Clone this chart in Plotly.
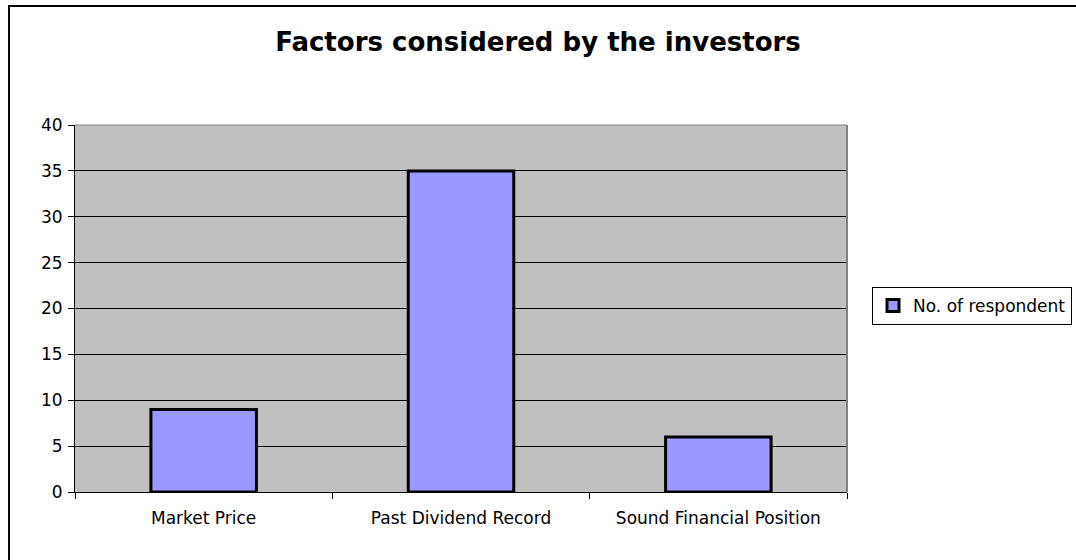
import plotly.graph_objects as go

categories = ["Market Price", "Past Dividend Record", "Sound Financial Position"]
respondents = [9, 35, 6]
series_name = "No. of respondent"
y_ticks = [0, 5, 10, 15, 20, 25, 30, 35, 40]

W, H = 1076, 560
L, R, T, B = 75, 847, 125, 492  # plot area in pixels
pw, ph = R - L, B - T

def px_x(p):
    return (p - L) / pw

def px_y(p):
    return (B - p) / ph

fig = go.Figure()
fig.add_trace(go.Bar(
    x=categories, y=respondents, name=series_name,
    marker=dict(color="#9999FF", line=dict(color="black", width=3)),
    showlegend=True,
))

font = "DejaVu Sans, Verdana, sans-serif"

fig.update_layout(
    width=W, height=H,
    margin=dict(l=L, r=W - R, t=T, b=H - B, pad=0, autoexpand=False),
    paper_bgcolor="white",
    plot_bgcolor="#C0C0C0",
    bargap=0.59,
    font=dict(family=font, size=16, color="black"),
    title=dict(text="<b>Factors considered by the investors</b>",
               x=0.5, xanchor="center", xref="container",
               y=1 - 42 / H, yanchor="middle", yref="container",
               font=dict(family=font, size=26, color="black")),
    xaxis=dict(
        type="category", showgrid=False, ticks="outside", tickson="boundaries",
        ticklen=6, tickcolor="black", showline=True, linecolor="black", linewidth=1,
        tickfont=dict(size=17), ticklabelstandoff=11,
    ),
    yaxis=dict(
        range=[0, 40], tickvals=y_ticks, ticks="outside", ticklen=6, tickcolor="black",
        showline=True, linecolor="black", linewidth=1,
        showgrid=True, gridcolor="black", gridwidth=1, zeroline=False,
        tickfont=dict(size=17), ticklabelstandoff=2,
    ),
    legend=dict(
        x=px_x(872), xanchor="left", y=px_y(306), yanchor="middle",
        bordercolor="black", borderwidth=1, bgcolor="white",
        font=dict(size=17),
    ),
    shapes=[
        # right/top border of plot area
        dict(type="line", xref="paper", yref="paper", x0=1, x1=1, y0=0, y1=1,
             line=dict(color="#808080", width=2)),
        dict(type="line", xref="paper", yref="paper", x0=0, x1=1, y0=1, y1=1,
             line=dict(color="#808080", width=1)),
        # outer chart frame
        dict(type="rect", xref="paper", yref="paper",
             x0=px_x(9), x1=px_x(W + 20), y0=px_y(H + 20), y1=px_y(6),
             line=dict(color="black", width=2), layer="below"),
    ],
)

fig.write_html("out.html")
